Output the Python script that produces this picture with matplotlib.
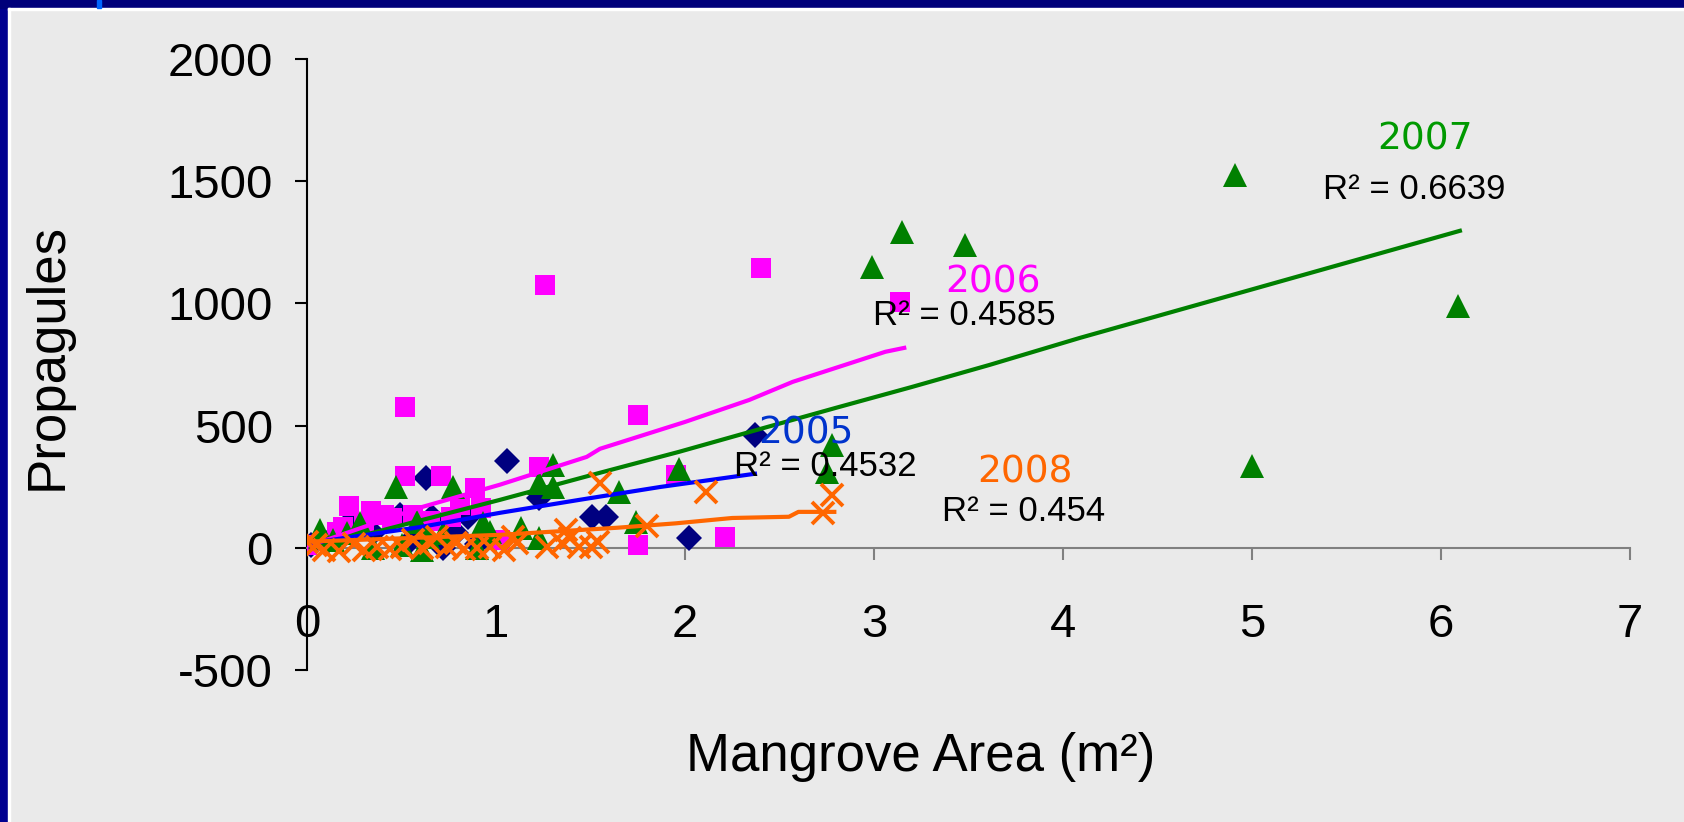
import numpy as np
import matplotlib.pyplot as plt
from matplotlib.patches import Rectangle

plt.rcParams['font.family'] = ['Liberation Sans', 'DejaVu Sans']
plt.rcParams['axes.unicode_minus'] = False   # el "-500" usa guion comun

# DATOS ==================================================================
# 2005 (rombos)
x05 = [0.02, 0.10, 0.24, 0.35, 0.49, 0.55, 0.63, 0.66, 0.72, 0.79, 0.85, 0.90,
       1.06, 1.23, 1.51, 1.58, 2.02, 2.37]
y05 = [10, 20, 115, 60, 135, 30, 286, 127, 0, 61, 127, 15,
       356, 204, 127, 127, 41, 462]
# 2006 (cuadrados)
x06 = [0.00, 0.16, 0.19, 0.22, 0.30, 0.34, 0.41, 0.45, 0.52, 0.52, 0.56, 0.65,
       0.71, 0.76, 0.81, 0.89, 0.92, 1.02, 1.23, 1.26, 1.75, 1.75, 1.95, 2.21,
       2.40, 3.14]
y06 = [12, 65, 86, 172, 100, 151, 135, 120, 577, 294, 135, 110,
       294, 127, 176, 245, 164, 33, 331, 1076, 544, 12, 299, 45,
       1145, 1006]
# 2007 (triangulos)
x07 = [0.07, 0.14, 0.21, 0.28, 0.35, 0.47, 0.50, 0.58, 0.61, 0.64, 0.72, 0.77,
       0.90, 0.93, 0.97, 1.13, 1.23, 1.23, 1.30, 1.30, 1.65, 1.74, 1.97, 2.75,
       2.78, 2.99, 3.15, 3.48, 4.91, 5.00, 6.09]
y07 = [74, 33, 61, 102, 0, 250, 10, 106, -8, 45, 61, 250,
       0, 102, 65, 80, 41, 266, 340, 250, 229, 106, 323, 311,
       421, 1149, 1292, 1239, 1526, 335, 990]
# 2008 (cruces)
x08 = [0.00, 0.05, 0.09, 0.17, 0.25, 0.30, 0.37, 0.44, 0.50, 0.56, 0.61, 0.65,
       0.69, 0.74, 0.79, 0.83, 0.90, 0.97, 1.04, 1.09, 1.11, 1.27, 1.35, 1.37,
       1.39, 1.44, 1.50, 1.54, 1.55, 1.80, 2.11, 2.73, 2.78]
y08 = [25, 10, -8, -15, 15, -8, 4, -4, 4, 33, 0, 20,
       45, 4, 20, -4, 0, 4, -8, 45, 20, 4, 20, 74,
       41, 4, 4, 25, 266, 90, 229, 143, 217]

# lineas de tendencia
tx05 = [0.02, 0.60, 1.02, 1.44, 1.87, 2.37]
ty05 = [20, 85, 143, 196, 249, 303]
tx06 = [0.00, 0.60, 1.02, 1.48, 1.55, 2.00, 2.34, 2.57, 3.06, 3.16]
ty06 = [5, 165, 258, 372, 405, 515, 605, 679, 802, 818]
tx07 = [0.02, 0.44, 1.02, 1.55, 1.97, 2.42, 2.80, 3.20, 3.61, 4.09, 6.10]
ty07 = [-5, 80, 196, 307, 393, 491, 573, 658, 748, 859, 1297]
tx08 = [0.00, 1.02, 1.64, 1.95, 2.25, 2.55, 2.60, 2.79]
ty08 = [25, 53, 82, 100, 122, 127, 147, 147]

# etiquetas: anio, R2, posicion
anios = ['2005', '2006', '2007', '2008']
r2 = ['0.4532', '0.4585', '0.6639', '0.454']
col_txt = ['#0033CC', '#FF00FF', '#009900', '#FF6600']
pos_anio = [(2.64, 468), (3.63, 1085), (5.915, 1672), (3.80, 308)]
pos_r2 = [(2.74, 332), (3.48, 950), (5.857, 1468), (3.79, 148)]

# GRAFICO ================================================================
fondo = '#EAEAEA'
lw = 3.0
fig = plt.figure(figsize=(16.84, 8.22), dpi=100, facecolor=fondo)
ax = fig.add_axes([307/1684, 152/822, 1323/1684, 611/822])
ax.set_facecolor('none')

ax.plot(x05, y05, 'D', color='#000080', ms=13, mew=0, zorder=3)
ax.plot(x06, y06, 's', color='#FF00FF', ms=15, mew=0, zorder=3)
ax.plot(x07, y07, '^', color='#008000', ms=17, mew=0, zorder=3)
ax.plot(tx06, ty06, '-', color='#FF00FF', lw=lw, zorder=4)
ax.plot(tx07, ty07, '-', color='#008000', lw=lw, zorder=4)
ax.plot(tx05, ty05, '-', color='#0000FF', lw=lw, zorder=4)
ax.plot(x08, y08, 'x', color='#FF6600', ms=16, mew=2.8, zorder=5)
ax.plot(tx08, ty08, '-', color='#FF6600', lw=lw, zorder=5)

for i in range(4):
    ax.text(pos_anio[i][0], pos_anio[i][1], anios[i], color=col_txt[i],
            fontsize=27, family='DejaVu Sans', ha='center', va='center', zorder=6)
    ax.text(pos_r2[i][0], pos_r2[i][1], 'R² = ' + r2[i], color='k',
            fontsize=25, ha='center', va='center', zorder=6)

ax.set_xlim(0, 7)
ax.set_ylim(-500, 2000)
ax.set_xticks(np.arange(0, 8, 1))
ax.set_yticks(np.arange(-500, 2001, 500))
ax.spines['top'].set_visible(False)
ax.spines['right'].set_visible(False)
ax.spines['bottom'].set_position(('data', 0))
ax.spines['bottom'].set_color('#808080')
ax.spines['bottom'].set_linewidth(1.5)
ax.spines['left'].set_color('k')
ax.spines['left'].set_linewidth(1.5)
ax.tick_params(axis='x', direction='out', length=8.5, width=1.5, color='#808080',
               labelsize=34, pad=31)
ax.tick_params(axis='y', direction='out', length=8.5, width=1.5, color='k',
               labelsize=34, pad=16)

fig.text(921/1684, 1-757/822, 'Mangrove Area (m²)', fontsize=38,
         ha='center', va='center')
fig.text(48/1684, 1-357/822, 'Propagules', fontsize=38, rotation=90,
         ha='center', va='center')

# marco azul de la diapositiva
W, H = 1684., 822.
fig.patches.append(Rectangle((0, 0), 8/W, 1, transform=fig.transFigure,
                             color='#000090', zorder=10))
fig.patches.append(Rectangle((0, 1-8/H), 1, 8/H, transform=fig.transFigure,
                             color='#00007A', zorder=10))
fig.patches.append(Rectangle((97/W, 1-8/H), 4/W, 8/H, transform=fig.transFigure,
                             color='#0066FF', zorder=11))
fig.patches.append(Rectangle((8/W, 0), 1.5/W, 1-8/H, transform=fig.transFigure,
                             color='white', zorder=10))
fig.patches.append(Rectangle((8/W, 1-10/H), 1, 2/H, transform=fig.transFigure,
                             color='white', zorder=10))

plt.savefig('out.png', dpi=100, facecolor=fondo)
